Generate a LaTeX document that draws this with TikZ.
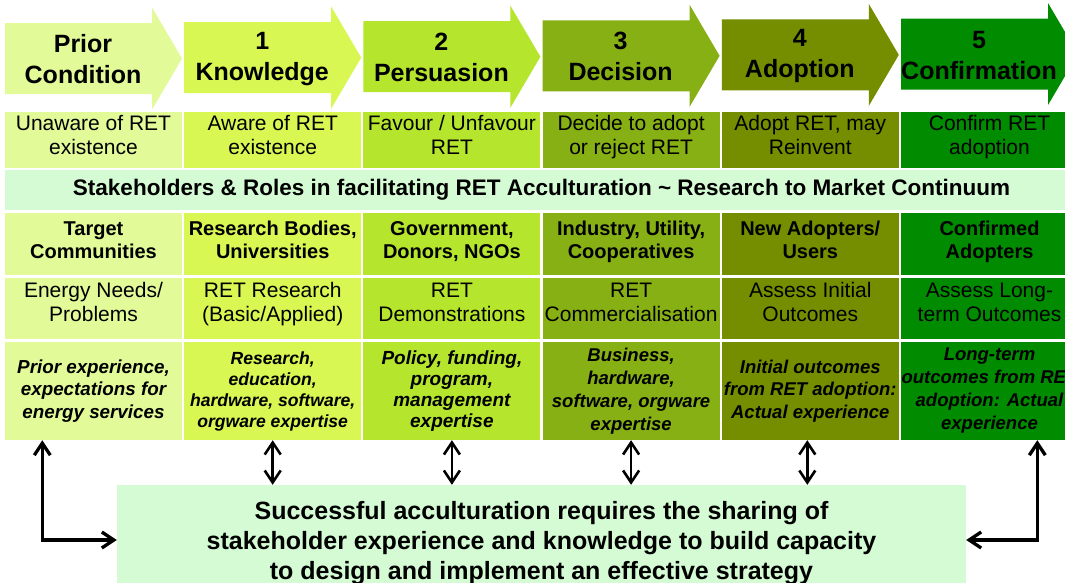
\documentclass[tikz,border=0pt]{standalone}
\usepackage{fontspec}
\setmainfont{Liberation Sans}
\usetikzlibrary{arrows.meta}
\definecolor{c0}{HTML}{E2FA98}
\definecolor{c1}{HTML}{D8F752}
\definecolor{c2}{HTML}{B5E62D}
\definecolor{c3}{HTML}{87B015}
\definecolor{c4}{HTML}{758E00}
\definecolor{c5}{HTML}{008B00}
\definecolor{mint}{HTML}{D4FBD4}
\begin{document}
\begin{tikzpicture}[x=1pt,y=-1pt,
  cell/.style={rectangle, inner sep=0pt, minimum width=177pt, align=center, text=black},
  rowa/.style={cell, minimum height=56pt, font=\fontsize{21}{24}\selectfont, text height=29pt, text depth=0pt},
  rowb/.style={cell, minimum height=62pt, font=\bfseries\fontsize{20}{23}\selectfont, text height=28.4pt, text depth=0pt},
  rowc/.style={cell, minimum height=61pt, font=\fontsize{21}{24}\selectfont, text height=26pt, text depth=0pt},
  rowd/.style={cell, minimum height=98pt},
  ital/.style 2 args={font=\bfseries\itshape\fontsize{#1}{#2}\selectfont},
  headtext/.style={font=\bfseries\fontsize{25}{31}\selectfont, align=center, inner sep=0pt},
  band/.style={rectangle, inner sep=0pt, fill=mint, align=center},
  tipb/.tip={Straight Barb[length=12pt,width=16pt]},
  link/.style={line width=2.6pt, tipb-tipb},
  bigl/.style={line width=3.3pt, tipb-tipb}
]
\useasboundingbox (0,0) rectangle (1065,582);
\clip (0,0) rectangle (1065,582);
\fill[white] (0,0) rectangle (1065,582);

% stage arrows
\foreach \i/\c in {0/c0,1/c1,2/c2,3/c3,4/c4,5/c5}{
  \pgfmathsetmacro\L{5+179.2*\i}
  \pgfmathsetmacro\cy{58.5-0.9*\i}
  \fill[\c] (\L,\cy-35.5) -- (\L+147,\cy-35.5) -- (\L+147,\cy-51) -- (\L+177,\cy)
    -- (\L+147,\cy+51) -- (\L+147,\cy+35.5) -- (\L,\cy+35.5) -- cycle;
}
\node[headtext] (h0) at (83,59.5) {Prior\\Condition};
\node[headtext] (h1) at (262.2,58.6) {1\\Knowledge};
\node[headtext] (h2) at (441.4,57.7) {2\\Persuasion};
\node[headtext] (h3) at (620.6,56.8) {3\\Decision};
\node[headtext] (h4) at (799.8,55.9) {4\\Adoption};
\node[headtext] (h5) at (979,56) {5\\Confirmation};

% row 1
\node[rowa,fill=c0] (r1c0) at (93.5,140) {Unaware of RET\\existence};
\node[rowa,fill=c1] (r1c1) at (272.7,140) {Aware of RET\\existence};
\node[rowa,fill=c2] (r1c2) at (451.9,140) {Favour / Unfavour\\RET};
\node[rowa,fill=c3] (r1c3) at (631.1,140) {Decide to adopt\\or reject RET};
\node[rowa,fill=c4] (r1c4) at (810.3,140) {Adopt RET, may\\Reinvent};
\node[rowa,fill=c5] (r1c5) at (989.5,140) {Confirm RET\\adoption};

% band
\node[band, minimum width=1073pt, minimum height=40pt, font=\bfseries\fontsize{22.5}{26}\selectfont] (bar) at (541.5,190)
  {Stakeholders \& Roles in facilitating RET Acculturation \textasciitilde{} Research to Market Continuum};

% row 2
\node[rowb,fill=c0] (r2c0) at (93.5,244) {Target\\Communities};
\node[rowb,fill=c1] (r2c1) at (272.7,244) {Research Bodies,\\Universities};
\node[rowb,fill=c2] (r2c2) at (451.9,244) {Government,\\Donors, NGOs};
\node[rowb,fill=c3] (r2c3) at (631.1,244) {Industry, Utility,\\Cooperatives};
\node[rowb,fill=c4] (r2c4) at (810.3,244) {New Adopters/\\Users};
\node[rowb,fill=c5] (r2c5) at (989.5,244) {Confirmed\\Adopters};

% row 3
\node[rowc,fill=c0] (r3c0) at (93.5,308.5) {Energy Needs/\\Problems};
\node[rowc,fill=c1] (r3c1) at (272.7,308.5) {RET Research\\(Basic/Applied)};
\node[rowc,fill=c2] (r3c2) at (451.9,308.5) {RET\\Demonstrations};
\node[rowc,fill=c3] (r3c3) at (631.1,308.5) {RET\\Commercialisation};
\node[rowc,fill=c4] (r3c4) at (810.3,308.5) {Assess Initial\\Outcomes};
\node[rowc,fill=c5] (r3c5) at (989.5,308.5) {Assess Long-\\term Outcomes};

% row 4
\node[rowd,fill=c0,ital={18.8}{22.5}] (r4c0) at (93.5,391) {Prior experience,\\expectations for\\energy services};
\node[rowd,fill=c1,ital={17.6}{21}] (r4c1) at (272.7,391) {Research,\\education,\\hardware, software,\\orgware expertise};
\node[rowd,fill=c2,ital={19}{21}] (r4c2) at (451.9,391) {Policy, funding,\\program,\\management\\expertise};
\node[rowd,fill=c3,ital={18.5}{23}] (r4c3) at (631.1,391) {Business,\\hardware,\\software, orgware\\expertise};
\node[rowd,fill=c4,ital={18.5}{22.5}] (r4c4) at (810.3,391) {Initial outcomes\\\makebox[170pt]{from RET adoption:}\\Actual experience};
\node[rowd,fill=c5,ital={18.5}{23}] (r4c5) at (989.5,391) {Long-term\\\makebox[170pt]{outcomes from RET}\\adoption: Actual\\experience};

% bottom box
\node[band, minimum width=849pt, minimum height=110pt, font=\bfseries\fontsize{25}{30}\selectfont, text height=78pt, text depth=0pt] (bottom) at (541.5,540)
  {Successful acculturation requires the sharing of\\stakeholder experience and knowledge to build capacity\\to design and implement an effective strategy};

% connectors
\draw[link] (r4c1.south) -- (r4c1.south |- bottom.north);
\draw[link] (r4c2.south) -- (r4c2.south |- bottom.north);
\draw[link] (r4c3.south) -- (r4c3.south |- bottom.north);
\coordinate (a4) at ([xshift=-3pt]r4c4.south);
\draw[link] (a4) -- (a4 |- bottom.north);
\coordinate (lft) at ([xshift=37.5pt]r4c0.south west);
\coordinate (rgt) at ([xshift=136.5pt]r4c5.south west);
\draw[bigl] (lft) |- (bottom.west);
\draw[bigl] (rgt) |- (bottom.east);
\end{tikzpicture}
\end{document}
